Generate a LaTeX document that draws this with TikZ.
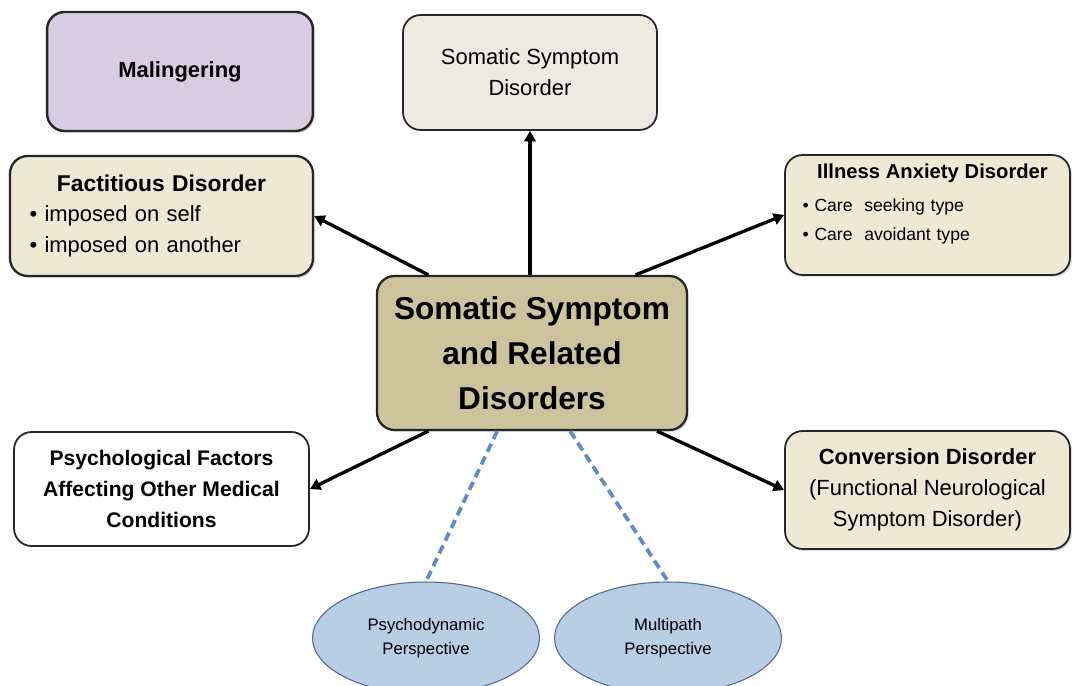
\documentclass[tikz,border=0pt]{standalone}
\usepackage{fontspec}
\setmainfont{Liberation Sans}
\usetikzlibrary{arrows.meta,shapes.geometric,shadows,positioning}
\definecolor{lilac}{HTML}{D8CCE2}
\definecolor{paper}{HTML}{EDEBE0}
\definecolor{sand}{HTML}{EEE9D5}
\definecolor{khaki}{HTML}{CDC39D}
\definecolor{skyfill}{HTML}{B9CDE5}
\definecolor{skyline}{HTML}{4A6A93}
\definecolor{dashblue}{HTML}{5B8BC8}

\begin{document}
\begin{tikzpicture}[x=0.02cm,y=-0.02cm,>={Triangle[length=6pt,width=6.5pt]},
  card/.style={draw=black!85,line width=1pt,rounded corners=10pt,inner sep=3pt,font=\fontsize{12.5}{17.5}\selectfont},
  boxshadow/.style={drop shadow={shadow xshift=1pt,shadow yshift=-1pt,opacity=0.35}},
  oval/.style={ellipse,draw=skyline,fill=skyfill,line width=0.6pt,minimum width=4.54cm,minimum height=2.24cm,align=center,font=\fontsize{9.5}{13.7}\selectfont},
  link/.style={->,line width=1.9pt},
  dashlink/.style={dashblue,line width=2.1pt,dash pattern=on 5pt off 3pt}]
\useasboundingbox[fill=white](0,0)rectangle(1073,686);
% boxes round the core
\node[card,boxshadow,fill=lilac,line width=1.4pt,minimum width=5.32cm,minimum height=2.38cm](maling)at(180,71.5){\bfseries Malingering};
\node[card,fill=paper,minimum width=5.08cm,minimum height=2.3cm,align=center](ssd)at(530,72.5){Somatic Symptom\\Disorder};
\node[card,boxshadow,fill=sand,line width=1.3pt,minimum width=6.06cm,minimum height=2.4cm,text width=5.28cm,align=left](fact)at(161.5,216)
  {\makebox[\linewidth]{\fontsize{13}{17.5}\selectfont\bfseries Factitious Disorder}\\• imposed on self\\• imposed on another};
\node[card,boxshadow,fill=sand,minimum width=5.7cm,minimum height=2.4cm](illness)at(927.5,215){};
\node[below=4.5pt of illness.north,xshift=0.1cm,inner sep=1pt,text width=5.2cm,align=left,font=\fontsize{10}{16.5}\selectfont](illtext)
  {\makebox[\linewidth]{\fontsize{11.5}{14}\selectfont\bfseries Illness Anxiety Disorder}\\[2pt]• Care\ \ seeking type\\• Care\ \ avoidant type};
\node[card,boxshadow,fill=khaki,line width=1.3pt,minimum width=6.2cm,minimum height=3.08cm,align=center,font=\fontsize{18}{25.5}\selectfont\bfseries](core)at(532,353)
  {Somatic Symptom\\and Related\\Disorders};
\node[card,fill=white,minimum width=5.9cm,minimum height=2.28cm,align=center,font=\fontsize{12}{17.4}\selectfont\bfseries](psyfac)at(161.5,489)
  {Psychological Factors\\Affecting Other Medical\\Conditions};
\node[card,boxshadow,fill=sand,minimum width=5.7cm,minimum height=2.36cm,align=center](conv)at(927.5,490)
  {{\bfseries Conversion Disorder}\\(Functional Neurological\\Symptom Disorder)};
% perspectives
\node[oval](psydyn)at(426,638){Psychodynamic\\Perspective};
\node[oval](multi)at(668,638){Multipath\\Perspective};
% connectors
\draw[link](ssd.south|-core.north)--(ssd.south);
\foreach \a/\b in {core.143/fact.east,core.37/illness.west,core.217/psyfac.east,core.328/conv.west}
  \draw[link](\a)--(\b);
\draw[dashlink](core.246)--(psydyn.north);
\draw[dashlink](core.296)--(multi.north);
\end{tikzpicture}
\end{document}
